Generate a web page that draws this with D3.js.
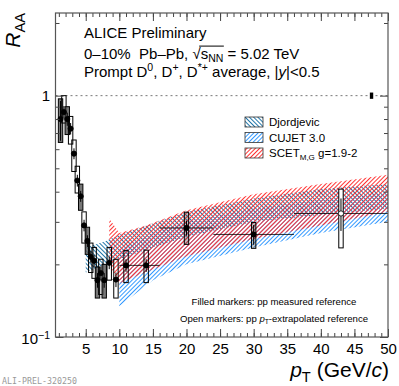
<!DOCTYPE html>
<html lang="en">
  <head>
    <meta charset="utf-8">
    <title>D meson RAA 0-10%</title>
    <style>
      body {
        margin: 0;
        background: #fff;
      }

      svg {
        display: block;
        font-family: "Liberation Sans", Arial, sans-serif;
        fill: #000;
      }

      svg text {
        white-space: pre;
      }

      .axis path {
        display: none;
      }

      .axis line {
        stroke: #444;
      }

      .axis text {
        font-family: "Liberation Sans", Arial, sans-serif;
        font-size: 15px;
        fill: #000;
      }
    </style>
  </head>

  <body>
    <svg id="chart" width="399" height="386"></svg>
    <script src="https://d3js.org/d3.v7.min.js"></script>
    <script>
      // measured points (pT bin centre, half width, RAA, errors)
      const ptCenter = [1.25, 1.75, 2.25, 2.75, 3.25, 3.75, 4.25, 4.75, 5.25, 5.75, 6.25, 6.75, 7.25, 7.75, 8.5, 9.5, 11, 14, 20, 30, 43];
      const ptHalf = [0.25, 0.25, 0.25, 0.25, 0.25, 0.25, 0.25, 0.25, 0.25, 0.25, 0.25, 0.25, 0.25, 0.25, 0.5, 0.5, 1, 2, 4, 6, 7];
      const raa = [0.80, 0.855, 0.80, 0.73, 0.575, 0.445, 0.383, 0.29, 0.25, 0.215, 0.207, 0.172, 0.184, 0.172, 0.203, 0.173, 0.198, 0.198, 0.283, 0.266, 0.325];
      const statErr = [0.15, 0.05, 0.05, 0.04, 0.03, 0.025, 0.02, 0.016, 0.014, 0.012, 0.012, 0.012, 0.012, 0.012, 0.012, 0.012, 0.012, 0.012, 0.02, 0.025, 0.05];
      const systLow = [0.64, 0.77, 0.69, 0.63, 0.485, 0.395, 0.335, 0.245, 0.22, 0.185, 0.175, 0.145, 0.15, 0.145, 0.172, 0.145, 0.168, 0.168, 0.242, 0.233, 0.234];
      const systHigh = [0.97, 1.0, 0.90, 0.82, 0.655, 0.51, 0.43, 0.33, 0.285, 0.245, 0.235, 0.195, 0.21, 0.20, 0.235, 0.21, 0.228, 0.229, 0.329, 0.298, 0.41];
      const boxGroup = [0, 1, 0, 1, 1, 1, 0, 1, 0, 1, 1, 0, 1, 0, 1, 1, 1, 1, 2, 2, 3];
      const refType = ["meas", "meas", "meas", "meas", "meas", "meas", "meas", "meas", "meas", "meas", "meas",
        "meas", "meas", "meas", "meas", "meas", "meas", "meas", "meas", "meas", "extr"];
      const normUnc = 0.03;

      // model bands
      const djPt = [5, 8, 10, 15, 20, 30, 40, 50];
      const djLo = [0.185, 0.20, 0.21, 0.235, 0.26, 0.30, 0.32, 0.34];
      const djHi = [0.235, 0.25, 0.265, 0.295, 0.33, 0.375, 0.41, 0.43];
      const cuPt = [10, 15, 20, 30, 40, 50];
      const cuLo = [0.134, 0.172, 0.20, 0.235, 0.27, 0.30];
      const cuHi = [0.23, 0.27, 0.30, 0.34, 0.37, 0.395];
      const scPt = [8.5, 10, 14, 20, 30, 40, 50];
      const scLo = [0.20, 0.167, 0.186, 0.216, 0.255, 0.29, 0.33];
      const scHi = [0.31, 0.27, 0.29, 0.335, 0.39, 0.43, 0.47];

      const xTickLabels = [5, 10, 15, 20, 25, 30, 35, 40, 45, 50];

      const svg = d3.select("#chart");
      const L = 55.5, R = 388, T = 13, B = 337;

      const x = d3.scaleLinear().domain([0.5, 50]).range([L, R]);
      const y = d3.scaleLog().domain([0.1, 2.2]).range([B, T]);

      // hatch patterns
      const defs = svg.append("defs");
      function hatch(id, color, angle) {
        defs.append("pattern")
          .attr("id", id)
          .attr("patternUnits", "userSpaceOnUse")
          .attr("width", 3).attr("height", 3)
          .attr("patternTransform", "rotate(" + angle + ")")
          .append("line")
          .attr("x1", 0.5).attr("y1", 0).attr("x2", 0.5).attr("y2", 3)
          .attr("stroke", color).attr("stroke-width", 1);
      }
      hatch("hDj", "#2277aa", -45);
      hatch("hCu", "#3399ff", 45);
      hatch("hSc", "#ff3333", 45);
      const fills = ["url(#hDj)", "url(#hCu)", "url(#hSc)"];

      defs.append("clipPath").attr("id", "plot")
        .append("rect").attr("x", L).attr("y", T).attr("width", R - L).attr("height", B - T);

      const plot = svg.append("g").attr("clip-path", "url(#plot)");

      const bands = [
        djPt.map((p, i) => ({ p: p, lo: djLo[i], hi: djHi[i] })),
        cuPt.map((p, i) => ({ p: p, lo: cuLo[i], hi: cuHi[i] })),
        scPt.map((p, i) => ({ p: p, lo: scLo[i], hi: scHi[i] }))
      ];
      const area = d3.area()
        .x(d => x(d.p))
        .y0(d => y(d.lo))
        .y1(d => y(d.hi));

      plot.selectAll(".band")
        .data(bands)
        .enter()
        .append("path")
        .attr("class", "band")
        .attr("d", area)
        .attr("fill", (d, i) => fills[i]);

      // dotted line at unity
      plot.append("line")
        .attr("x1", L).attr("x2", R)
        .attr("y1", y(1)).attr("y2", y(1))
        .attr("stroke", "#777")
        .attr("stroke-dasharray", "2,3");

      // normalisation uncertainty
      plot.append("rect")
        .attr("x", x(47.3)).attr("width", x(47.8) - x(47.3))
        .attr("y", y(1 + normUnc)).attr("height", y(1 - normUnc) - y(1 + normUnc))
        .attr("fill", "#000");

      const pts = ptCenter.map((p, i) => ({
        p: p, w: ptHalf[i], v: raa[i], s: statErr[i],
        lo: systLow[i], hi: systHigh[i], g: boxGroup[i], ref: refType[i]
      }));

      const boxFill = ["#555", "none", "rgba(60,60,60,0.3)", "#fff"];
      const boxOpacity = [0.8, 1, 1, 1];

      // horizontal bin bars
      plot.selectAll(".hbar")
        .data(pts)
        .enter()
        .append("line")
        .attr("x1", d => x(d.p - d.w)).attr("x2", d => x(d.p + d.w))
        .attr("y1", d => y(d.v)).attr("y2", d => y(d.v))
        .attr("stroke", "#000").attr("stroke-width", 0.8);

      // systematic boxes
      plot.selectAll(".sys")
        .data(pts)
        .enter()
        .append("rect")
        .attr("class", "sys")
        .attr("x", d => x(d.p) - 2.2)
        .attr("width", 4.4)
        .attr("y", d => y(d.hi))
        .attr("height", d => y(d.lo) - y(d.hi))
        .attr("fill", d => boxFill[d.g])
        .attr("fill-opacity", d => boxOpacity[d.g])
        .attr("stroke", "#000")
        .attr("stroke-width", 1);

      // statistical bars
      plot.selectAll(".stat")
        .data(pts)
        .enter()
        .append("line")
        .attr("x1", d => x(d.p)).attr("x2", d => x(d.p))
        .attr("y1", d => y(d.v + d.s)).attr("y2", d => y(d.v - d.s))
        .attr("stroke", "#000").attr("stroke-width", 1);

      plot.selectAll(".mk")
        .data(pts)
        .enter()
        .append("circle")
        .attr("cx", d => x(d.p))
        .attr("cy", d => y(d.v))
        .attr("r", 2.6)
        .attr("fill", d => d.ref === "meas" ? "#000" : "#fff")
        .attr("stroke", "#000")
        .attr("stroke-width", 0.8);

      // axes: ticks on all four sides, pointing inwards
      const xMinor = d3.range(1, 51);
      const yMinor = [0.2, 0.3, 0.4, 0.5, 0.6, 0.7, 0.8, 0.9, 2];

      svg.append("g").attr("class", "axis")
        .attr("transform", "translate(0," + B + ")")
        .call(d3.axisBottom(x).tickValues(xMinor).tickSize(-4).tickFormat(""));
      svg.append("g").attr("class", "axis")
        .attr("transform", "translate(0," + B + ")")
        .call(d3.axisBottom(x).tickValues(xTickLabels).tickSize(-8).tickPadding(6.5));
      svg.append("g").attr("class", "axis")
        .attr("transform", "translate(0," + T + ")")
        .call(d3.axisTop(x).tickValues(xMinor).tickSize(-4).tickFormat(""));
      svg.append("g").attr("class", "axis")
        .attr("transform", "translate(0," + T + ")")
        .call(d3.axisTop(x).tickValues(xTickLabels).tickSize(-8).tickFormat(""));

      svg.append("g").attr("class", "axis")
        .attr("transform", "translate(" + L + ",0)")
        .call(d3.axisLeft(y).tickValues(yMinor).tickSize(-4).tickFormat(""));
      svg.append("g").attr("class", "axis")
        .attr("transform", "translate(" + L + ",0)")
        .call(d3.axisLeft(y).tickValues([0.1, 1]).tickSize(-8).tickFormat(""));
      svg.append("g").attr("class", "axis")
        .attr("transform", "translate(" + R + ",0)")
        .call(d3.axisRight(y).tickValues(yMinor).tickSize(-4).tickFormat(""));
      svg.append("g").attr("class", "axis")
        .attr("transform", "translate(" + R + ",0)")
        .call(d3.axisRight(y).tickValues([0.1, 1]).tickSize(-8).tickFormat(""));

      svg.append("rect")
        .attr("x", L).attr("y", T).attr("width", R - L).attr("height", B - T)
        .attr("fill", "none").attr("stroke", "#555").attr("stroke-width", 1.2);

      // rich text helper: parts are strings or {t, sub, sup, it}
      function rich(sel, px, py, parts, size, anchor) {
        const t = sel.append("text")
          .attr("x", px).attr("y", py)
          .attr("text-anchor", anchor || "start")
          .style("font-size", size + "px");
        let shift = 0;
        parts.forEach(p => {
          const o = typeof p === "string" ? { t: p } : p;
          const target = o.sub ? 0.24 * size : o.sup ? -0.36 * size : 0;
          const ts = t.append("tspan").text(o.t).attr("dy", target - shift);
          shift = target;
          if (o.sub || o.sup) ts.style("font-size", (size * 0.7) + "px");
          if (o.it) ts.style("font-style", "italic");
        });
        return t;
      }

      // y tick labels
      rich(svg, 50, 101, ["1"], 15, "end");
      rich(svg, 50, 344, ["10", { t: "\u22121", sup: true }], 15, "end");

      // axis titles
      rich(svg, 389, 377, [{ t: "p", it: true }, { t: "T", sub: true }, " (GeV/", { t: "c", it: true }, ")"], 21, "end");
      rich(svg, 0, 0, [{ t: "R", it: true }, { t: "AA", sub: true }], 21, "end")
        .attr("transform", "translate(20," + T + ") rotate(-90)");

      // header
      rich(svg, 84, 38, ["ALICE Preliminary"], 15);
      const head2 = "0\u201310%\u00A0 Pb\u2013Pb, \u221A";
      const l2 = rich(svg, 84, 58.5, [head2, "s", { t: "NN", sub: true }, " = 5.02 TeV"], 15);
      const n2 = l2.node();
      const sIdx = head2.length;
      svg.append("line")
        .attr("x1", n2.getStartPositionOfChar(sIdx).x - 1.5)
        .attr("x2", n2.getEndPositionOfChar(sIdx + 2).x + 0.5)
        .attr("y1", 46.1).attr("y2", 46.1)
        .attr("stroke", "#000").attr("stroke-width", 1);
      rich(svg, 84, 76.5, ["Prompt D", { t: "0", sup: true }, ", D", { t: "+", sup: true }, ", D", { t: "*+", sup: true },
        " average, |", { t: "y", it: true }, "|<0.5"], 15);

      // legend
      const legendLabels = [["Djordjevic"], ["CUJET 3.0"], ["SCET", { t: "M,G", sub: true }, " g=1.9-2"]];
      const leg = svg.append("g");
      legendLabels.forEach((lab, i) => {
        const yy = 117 + i * 15.5;
        leg.append("rect")
          .attr("x", 245).attr("y", yy).attr("width", 18).attr("height", 10)
          .attr("fill", fills[i]).attr("stroke", "#333").attr("stroke-width", 0.8);
        rich(leg, 269, yy + 9, lab, 11.5);
      });

      // notes
      rich(svg, 274, 305, ["Filled markers: pp measured reference"], 9.6, "middle");
      rich(svg, 274, 322, ["Open markers: pp ", { t: "p", it: true }, { t: "T", sub: true }, "-extrapolated reference"], 9.6, "middle");

      svg.append("text")
        .attr("x", 2).attr("y", 384)
        .style("font-family", "'DejaVu Sans Mono', monospace")
        .style("font-size", "8.3px")
        .style("fill", "#999")
        .text("ALI-PREL-320250");
    </script>
  </body>

</html>
